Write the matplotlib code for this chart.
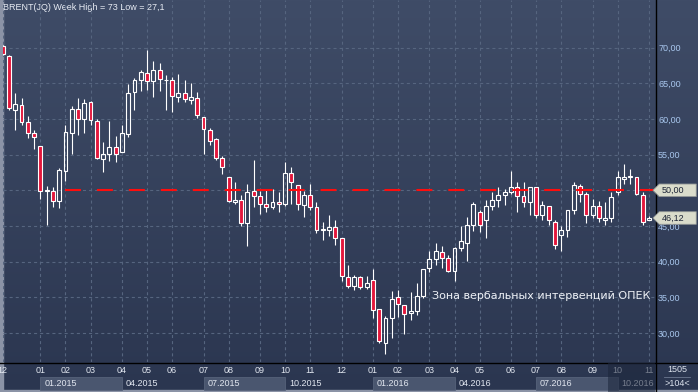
import numpy as np
import pandas as pd
import matplotlib
matplotlib.use("Agg")
import matplotlib.pyplot as plt
from matplotlib.patches import Rectangle
from matplotlib.path import Path
from matplotlib.colors import LinearSegmentedColormap
from matplotlib.transforms import blended_transform_factory

plt.rcParams['lines.scale_dashes'] = False

# weekly bars, the terminal splits the new-year week into an extra bar
dates = (list(pd.date_range("2014-12-01", "2014-12-29", freq="W-MON")) + [pd.Timestamp("2014-12-31")]
         + list(pd.date_range("2015-01-05", "2015-12-28", freq="W-MON")) + [pd.Timestamp("2015-12-31")]
         + list(pd.date_range("2016-01-04", "2016-11-07", freq="W-MON")))

opens = [70.2, 68.8, 61.25, 61.9, 59.6, 58.05, 56.2, 49.9, 49.95, 48.55,
         52.75, 58.05, 61.4, 60.0, 62.4, 59.7, 54.4, 55.1, 56.0, 55.4,
         57.9, 63.8, 65.45, 66.4, 65.3, 66.8, 65.4, 65.45, 63.1, 63.6,
         62.7, 62.9, 60.3, 58.5, 57.2, 54.55, 51.9, 48.4, 48.7, 45.35,
         49.95, 49.25, 48.15, 47.6, 48.4, 48.15, 52.45, 50.8, 48.0, 49.4,
         47.6, 44.5, 44.4, 44.8, 43.25, 37.8, 36.55, 37.8, 36.4, 37.4,
         33.35, 28.6, 32.1, 35.0, 33.9, 32.8, 33.1, 35.2, 39.1, 40.35,
         41.3, 40.5, 38.65, 41.9, 42.55, 45.1, 46.9, 45.8, 47.85, 48.7,
         49.4, 49.8, 50.4, 49.25, 48.4, 50.5, 46.5, 47.85, 45.6, 43.7,
         44.4, 47.2, 50.65, 49.55, 46.6, 47.85, 45.9, 46.05, 49.7, 51.65,
         51.85, 51.8, 49.4, 45.85]
highs = [70.3, 68.9, 63.6, 62.9, 60.4, 58.5, 56.2, 50.6, 50.5, 53.1,
         59.1, 61.75, 62.9, 62.8, 62.5, 60.0, 56.8, 59.7, 57.6, 59.2,
         64.9, 65.7, 66.8, 69.6, 68.1, 67.8, 66.1, 65.85, 66.3, 65.45,
         65.0, 63.8, 60.3, 58.75, 57.35, 54.85, 51.9, 51.1, 49.4, 50.9,
         54.3, 49.95, 50.2, 50.2, 49.8, 54.0, 53.3, 50.8, 49.95, 50.9,
         48.4, 45.5, 46.5, 45.8, 43.25, 39.6, 38.1, 38.0, 38.0, 38.95,
         33.35, 32.4, 35.9, 36.0, 33.9, 35.7, 37.0, 38.95, 41.45, 42.55,
         42.15, 40.9, 42.0, 44.95, 46.2, 48.4, 47.3, 48.7, 49.8, 50.5,
         50.2, 52.75, 51.2, 51.2, 50.5, 50.5, 48.55, 47.85, 45.9, 44.95,
         47.2, 51.2, 50.9, 49.8, 48.85, 48.55, 48.3, 49.7, 52.75, 53.7,
         53.0, 51.8, 49.7, 46.35]
lows = [69.0, 61.3, 58.5, 59.2, 57.35, 55.75, 48.8, 45.2, 47.7, 47.5,
        51.3, 55.05, 57.7, 58.0, 59.2, 54.4, 52.5, 54.1, 54.0, 55.3,
        57.5, 61.25, 63.9, 64.1, 63.1, 63.9, 61.25, 61.0, 62.4, 62.4,
        62.1, 60.1, 55.1, 56.4, 54.3, 52.3, 48.4, 48.1, 45.0, 42.15,
        47.7, 46.75, 47.0, 47.45, 46.9, 47.85, 48.15, 47.2, 46.3, 47.3,
        43.95, 43.1, 43.55, 42.4, 37.25, 36.3, 36.0, 36.15, 36.15, 32.1,
        28.6, 27.1, 29.3, 32.25, 29.9, 31.8, 32.5, 34.9, 38.5, 39.5,
        39.1, 38.5, 37.25, 41.45, 40.05, 44.25, 44.1, 43.3, 47.3, 47.6,
        48.0, 49.55, 46.9, 47.6, 46.6, 46.05, 45.9, 45.2, 41.75, 41.45,
        43.4, 46.75, 48.4, 45.35, 46.05, 45.5, 45.1, 45.6, 49.4, 50.9,
        50.9, 49.4, 45.1, 45.8]
closes = [69.1, 61.5, 62.1, 59.6, 58.1, 57.5, 49.95, 50.0, 48.55, 52.9,
          58.2, 61.4, 60.0, 62.2, 59.9, 54.5, 55.1, 56.0, 55.1, 58.05,
          63.6, 65.45, 66.55, 65.3, 66.8, 65.6, 65.5, 63.2, 63.6, 62.8,
          63.1, 60.55, 58.6, 56.9, 54.55, 53.3, 48.55, 48.7, 45.35, 49.8,
          49.25, 48.15, 47.7, 48.4, 48.15, 52.45, 51.2, 48.15, 49.4, 47.7,
          44.5, 44.55, 44.8, 43.25, 37.95, 36.55, 37.8, 36.4, 37.0, 33.2,
          28.9, 32.1, 34.75, 34.05, 32.65, 33.1, 35.2, 38.95, 40.35, 41.45,
          40.5, 38.65, 41.9, 42.85, 45.1, 48.15, 45.2, 47.85, 48.7, 49.4,
          49.8, 50.5, 49.25, 48.4, 50.5, 46.5, 48.0, 45.8, 42.4, 44.4,
          47.2, 50.8, 49.55, 46.6, 47.85, 46.05, 46.05, 49.0, 51.8, 51.9,
          51.95, 49.55, 45.6, 46.12]

level = 50.0
level_start = "2015-02-02"
last_price = 46.12
price_ticks = [30, 35, 40, 45, 50, 55, 60, 65, 70]
title = "BRENT(JQ) Week High = 73 Low = 27,1"
note = "Зона вербальных интервенций ОПЕК"

RED = "#e3173c"
SMALL = dict(family="Liberation Sans", fontsize=6.5)

W, H = 698, 392
fig = plt.figure(figsize=(W / 100, H / 100), dpi=100)

# background in pixel coordinates
bg = fig.add_axes([0, 0, 1, 1])
bg.set_xlim(0, W)
bg.set_ylim(H, 0)
bg.axis("off")
cmap = LinearSegmentedColormap.from_list("bg", ["#3f4c67", "#2b3650"])
bg.imshow(np.linspace(0, 1, 256)[:, None], cmap=cmap, aspect="auto",
          extent=(0, W, H, 0), origin="upper")
bg.add_patch(Rectangle((0, 0), 2.5, H, color="#8b93a6"))
bg.add_patch(Rectangle((0, H - 2), W, 2, color="#8b93a6"))
bg.plot([0, W], [362.5, 362.5], color="black", lw=1)
bg.plot([655.5, 655.5], [0, H], color="black", lw=1)
bg.text(3.3, 7.5, title, color="#e8ecf4", ha="left", va="center", **SMALL)
bg.text(677, 369.5, "1505", color="#dde3ee", ha="center", va="center", **SMALL)
bg.plot([664, 690], [377, 377], color="#6c7890", lw=0.6)
bg.text(677, 383.5, ">104<", color="#dde3ee", ha="center", va="center", **SMALL)

# main chart
ax = fig.add_axes([2.7 / W, 30 / H, 652.3 / W, 362 / H])
ax.set_facecolor("none")
for s in ax.spines.values():
    s.set_visible(False)

x = np.arange(len(dates))
o, h, l, c = map(np.array, (opens, highs, lows, closes))
top = np.maximum(o, c)
bot = np.minimum(o, c)
ax.vlines(x, top, h, color="white", lw=0.8, zorder=3)
ax.vlines(x, l, bot, color="white", lw=0.8, zorder=3)
ax.bar(x, top - bot, bottom=bot, width=0.62,
       color=np.where(c >= o, "none", RED), edgecolor="white", linewidth=0.8, zorder=3)

d = pd.DatetimeIndex(dates)
start = int(np.argmax(d >= pd.Timestamp(level_start)))
ax.plot([start, len(dates) + 1], [level, level], color="#ff0d0d", lw=1.5,
        linestyle=(0, (11.5, 11.5)), zorder=4)

ax.set_xlim(0.08, 103.95)
ax.set_ylim(25.94, 76.67)

# month ticks at the first bar of every month
months = d.to_period("M")
first = [0] + [i for i in range(1, len(d)) if months[i] != months[i - 1]]
ax.set_xticks(first)
ax.set_xticklabels([d[i].strftime("%m") for i in first])
ax.tick_params(axis="x", length=0, pad=3.2, labelcolor="#e2e7f0",
               labelsize=6.5, labelfontfamily="Liberation Sans")
ax.yaxis.tick_right()
ax.set_yticks(price_ticks)
# the 50 label sits under the level tag, so leave it blank
ax.set_yticklabels(["" if v == level else f"{v:.2f}".replace(".", ",") for v in price_ticks])
ax.tick_params(axis="y", length=0, pad=2.2, labelcolor="#a9c7ee",
               labelsize=6.5, labelfontfamily="Liberation Sans")
ax.grid(True, color="#56657f", lw=0.8, linestyle=(0, (2.2, 2.2)), zorder=0)
ax.set_axisbelow(True)

# quarter row under the months
blend = blended_transform_factory(ax.transData, ax.transAxes)
quarters = [i for i in first[1:] if d[i].month in (1, 4, 7, 10)]
for k, i in enumerate(quarters):
    if k % 2 == 0:
        j = quarters[k + 1] if k + 1 < len(quarters) else 96.5
        ax.add_patch(Rectangle((i, -28 / 362), j - i, 13 / 362, transform=blend,
                               clip_on=False, fc="#4a566f", ec="#56627a", lw=0.6))
    ax.annotate(d[i].strftime("%m.%Y"), (i, 0), xycoords=blend, xytext=(2.9, -15.6),
                textcoords="offset points", ha="left", va="center", color="#e2e7f0",
                annotation_clip=False, **SMALL)
fig.add_artist(Rectangle((608 / W, 0.5 / H), 47 / W, 29 / H, transform=fig.transFigure,
                         fc="#1c263b", alpha=0.55, zorder=10))

ax.text(68.4, 35.2, note, color="#eef1f6", fontsize=8, ha="left", va="center", zorder=5)


def tag_box(x0, y0, width, height, mutation_size):
    pad = 0.2 * mutation_size
    y0, y1 = y0 - pad, y0 + height + pad
    xl = x0 - 0.25 * mutation_size
    xr = xl + 4.1 * mutation_size
    ym = (y0 + y1) / 2
    return Path([(xl, y0), (xr, y0), (xr, y1), (xl, y1), (xl - (y1 - y0) / 2, ym), (xl, y0)],
                closed=True)


tr = blended_transform_factory(ax.transAxes, ax.transData)
for v in (level, last_price):
    ax.text(1 + 6.5 / 652.3, v, f"{v:.2f}".replace(".", ","), transform=tr, ha="left",
            va="center", color="#1c2436", clip_on=False, zorder=6,
            bbox=dict(boxstyle=tag_box, fc="#dadccb", ec="#8f9494", lw=0.6), **SMALL)

fig.savefig("out.png", dpi=100)
